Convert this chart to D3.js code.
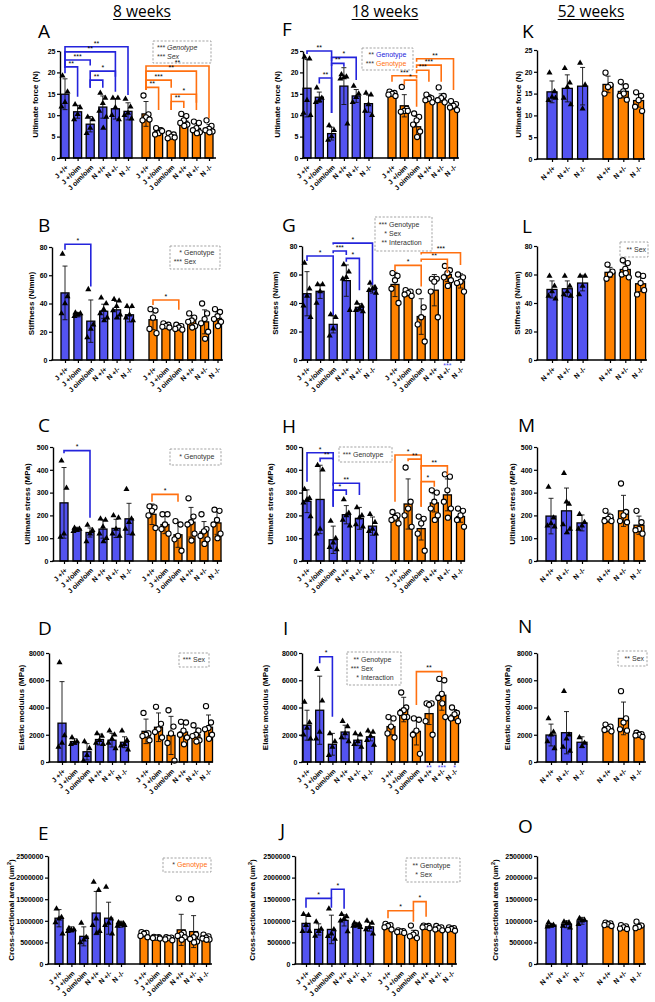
<!DOCTYPE html>
<html>
<head>
<meta charset="utf-8">
<script src="https://cdn.jsdelivr.net/npm/d3@7"></script>
<style>
body { margin: 0; background: #fff; }
text { font-family: "Liberation Sans", Arial, sans-serif; }
</style>
</head>
<body>
<svg id="fig" width="655" height="1002"></svg>
<script>
// group labels
var groups18 = ["J +/+", "J +/oim", "J oim/oim", "N +/+", "N +/-", "N -/-"];
var groups52 = ["N +/+", "N +/-", "N -/-"];

// ---- 8 weeks ----
var a_mean = [14.9, 10.8, 7.9, 11.9, 11.5, 10.9, 10.3, 6.2, 5.1, 8.6, 6.9, 6.8];
var a_sd = [3.6, 1.5, 1.8, 2.6, 2.4, 2.0, 2.9, 0.9, 0.6, 1.1, 1.2, 1.0];
var a_pts = [[19.2,15.5,13.0,12.0],[12.5,11.8,10.2,9.0],[9.6,9.0,7.0,5.8],[15.2,14.0,12.8,11.0,9.6,7.0],[14.0,14.0,11.8,10.0,9.0],[13.8,12.0,10.5,10.0,9.2],
  [14.6,10.2,9.5,8.8,9.0],[7.0,6.5,5.8,5.5,6.3],[5.8,5.5,5.0,4.6,4.8],[10.3,9.8,8.8,8.2,7.8,7.5],[8.5,8.2,7.0,6.5,6.0,5.8],[8.8,7.5,6.8,6.5,6.2,6.0]];
var a_br = [[0,5,26.0,21.0,14.7,"**"],[0,4,24.8,21.0,15.5,"**"],[0,2,22.9,21.0,21.6,"***"],[0,1,21.3,19.8,14.3,"**"],[2,4,20.3,16.4,19.0,"*"],[2,3,18.2,16.4,16.4,"**"],
  [6,11,21.5,15.9,9.3,"**"],[6,10,20.3,15.9,11.2,"**"],[6,8,18.2,15.9,16.4,"***"],[6,7,16.5,15.9,11.2,"**"],[8,10,14.9,11.2,12.9,"*"],[8,9,13.2,11.2,11.7,"**"]];

var b_mean = [47.5, 32, 27.5, 34.5, 35.5, 32, 28.5, 24.5, 23.5, 28, 27, 29.5];
var b_sd = [19, 1.5, 15, 5, 6, 5, 7, 2, 2, 3.5, 8.5, 4.5];
var b_pts = [[75,45,40,33],[33.5,33,32,31],[50,25,22,16],[44,40,36,33,30,28],[43,42,38,35,32,30],[38,38,32,30,28],
  [36,35,30,22,19],[26,25,24,23.5,23],[25,24,23,22,21.5],[33,30,28,27,24,23],[40,33,29,26,20,15],[36,34,31,29,27,24]];
var b_br = [[0,2,82,78,52,"*"],[6,8,42.5,39,35.5,"*"]];

var c_mean = [255, 140, 125, 140, 143, 185, 205, 160, 115, 170, 128, 167];
var c_sd = [155, 8, 20, 40, 40, 68, 45, 40, 55, 65, 45, 50];
var c_pts = [[440,320,120,105],[145,140,135,130],[158,135,120,85],[185,180,150,120,100,85],[200,190,140,120,110],[315,185,170,140,120],
  [240,235,220,200,145],[205,205,160,140,120],[175,160,110,95,45],[275,195,170,160,120,90],[205,140,130,110,95,75],[225,220,180,160,120,100]];
var c_br = [[0,2,484,473,190,"*"],[6,8,292,260,260,"*"]];

var d_mean = [2850, 1500, 750, 1650, 1600, 1450, 2250, 2550, 1950, 2200, 2000, 2550];
var d_sd = [3050, 200, 600, 400, 500, 400, 900, 1050, 1400, 750, 500, 900];
var d_pts = [[7300,1950,1400,1100],[1800,1500,1400,1300],[1500,1000,500,100],[2100,1900,1600,1400,1300],[2300,2000,1700,1400,1000],[2300,1600,1300,1200,900],
  [3600,2100,2000,1900,1600],[4050,2800,2400,2200,1800],[3800,2600,2100,1400,100],[2950,2900,2300,2000,1800,1300],[2700,2300,2000,1900,1600,1500],[4100,2900,2500,2400,2000,1700]];

var e_mean = [1060000, 800000, 640000, 1180000, 1060000, 920000, 680000, 610000, 590000, 790000, 750000, 610000];
var e_sd = [200000, 60000, 220000, 500000, 370000, 70000, 50000, 25000, 30000, 360000, 370000, 40000];
var e_pts = [[1280000,1080000,1050000,960000,700000],[830000,800000,780000,760000],[950000,620000,560000,500000],[1900000,1710000,1050000,900000,760000,720000],[1780000,1050000,950000,900000,700000],[960000,940000,920000,880000,900000],
  [740000,720000,700000,650000,620000],[630000,620000,610000,600000,590000],[620000,610000,600000,570000,550000],[1520000,720000,680000,650000,620000,560000],[1500000,680000,620000,580000,520000,500000],[680000,640000,610000,590000,570000,560000]];

// ---- 18 weeks ----
var f_mean = [16.3, 14.2, 5.7, 16.8, 14.5, 12.7, 15.0, 12.2, 7.3, 14.0, 14.0, 12.2];
var f_sd = [6.7, 1.2, 1.5, 4.3, 1.5, 2.0, 0.5, 2.6, 2.4, 0.8, 1.0, 0.8];
var f_pts = [[23.6,23.2,13.5,10.5,10.0],[16.4,14.0,13.5,13.0],[7.6,6.5,5.0,4.2],[19.5,19.0,18.8,18.5,8.0],[16.8,15.0,14.2,13.0],[15.2,14.8,12.5,11.0,10.0],
  [15.5,15.2,15.0,14.8,14.5],[16.6,11.5,11.0,10.8,11.0],[10.4,9.6,8.8,7.8,6.2,4.9],[14.8,14.0,13.8,13.5,13.0],[16.5,14.5,14.0,13.5,13.0],[13.3,12.6,12.2,11.8,11.2]];
var f_br = [[0,2,25.0,24.3,10.5,"**"],[1,2,18.7,17.4,10.5,"**"],[2,4,23.5,22.6,18.2,"*"],[2,3,22.1,21.5,21.3,"**"],
  [8,11,23.2,22.5,15.9,"**"],[8,10,21.7,21.0,17.8,"***"],[8,9,20.5,19.8,17.8,"***"],[6,8,19.2,17.8,18.6,"***"],[7,8,18.2,17.1,12.0,"*"]];

var g_mean = [46.5, 48.2, 25, 55.7, 37, 49.5, 53, 46.5, 30.5, 49, 60, 55.5];
var g_sd = [15.5, 5, 6, 11, 2.5, 2.5, 8.5, 1.5, 12.5, 11, 5, 5];
var g_pts = [[68,50,45,38,30],[53,53,48,40],[32,30,22,17],[67,62,58,57,35],[40,38,36,35,34],[54,51,50,49,47],
  [61,59,56,50,40],[49,48,47,46,45],[48,37,30,25,13],[57,57,55,48,30],[66,63,61,58,56,52],[60,58,55,54,48]];
var g_br = [[0,2,73,69.5,31.6,"*"],[2,3,76.5,75,73.7,"***"],[2,5,82,81,52.6,"*"],[3,4,71.3,69,49,"*"],
  [6,8,66.4,62.5,51.5,"*"],[8,10,70.7,69,61,"**"],[8,11,75.3,74,66.7,"***"]];

var h_mean = [262, 270, 93, 203, 187, 153, 190, 250, 142, 255, 290, 195];
var h_sd = [50, 150, 60, 40, 48, 40, 15, 110, 50, 40, 70, 25];
var h_pts = [[315,275,270,255,195],[420,400,140,120],[175,100,80,60,50],[270,210,200,180,155],[235,200,190,160,150],[205,170,140,130,120],
  [215,200,190,180,165],[410,260,230,200,150],[195,185,165,120,45],[310,300,260,230,200,180],[380,370,310,260,230,190],[230,220,200,180,150]];
var h_br = [[0,2,475,348,443,"*"],[1,2,450,435,238,"**"],[2,4,341,330,289,"**"],[2,3,311,238,289,"*"],
  [6,8,465,260,445,"*"],[7,8,447,437,238,"**"],[8,10,417,400,377,"**"],[8,9,348,238,326,"*"]];

var i_mean = [2700, 3800, 1300, 2200, 1600, 1850, 2600, 3850, 2250, 3550, 4900, 3450];
var i_sd = [1100, 2500, 800, 500, 400, 300, 600, 900, 1000, 800, 1100, 400];
var i_pts = [[4400,2900,2500,2000,1700],[6800,4500,2200,1700],[2100,1500,1100,500],[3000,2600,2100,1800,1500],[2100,2000,1500,1300,1100],[2300,2200,1900,1600,1250],
  [3300,3200,2600,2100,1800],[5100,4000,3800,3600,3300,3300],[3200,3100,2300,2000,600],[4300,4300,4200,3000,2000],[6100,6000,5000,4700,3300,4300],[4000,3600,3500,3200,3000]];
var i_br = [[1,2,7730,7240,3330,"*"],[8,10,6630,4180,6260,"**"]];

var j_mean = [940000, 800000, 800000, 1010000, 900000, 860000, 870000, 750000, 690000, 860000, 830000, 810000];
var j_sd = [200000, 130000, 330000, 130000, 50000, 100000, 50000, 40000, 90000, 30000, 60000, 40000];
var j_pts = [[1150000,1130000,900000,760000,760000],[980000,810000,760000,650000],[1280000,800000,700000,640000,580000],[1150000,1100000,1050000,1000000,750000],[950000,920000,900000,880000,850000],[1000000,950000,850000,800000,700000],
  [930000,900000,880000,850000,800000],[780000,760000,750000,740000,720000],[890000,720000,680000,640000,600000],[890000,880000,860000,850000,830000],[880000,850000,830000,800000,780000],[850000,830000,810000,790000,770000]];
var j_br = [[0,2,1520000,1303000,1303000,"*"],[2,3,1729000,1520000,1280000,"*"],[6,8,1234000,1057000,980000,"*"],[8,9,1443000,1234000,1096000,"*"]];

// ---- 52 weeks ----
var k_mean = [15.4, 16.2, 16.7, 17.1, 15.5, 13.4];
var k_sd = [2.5, 3.1, 4.3, 1.9, 1.5, 1.5];
var k_pts = [[19.8,15.5,14.2,13.5,14.0],[20.8,17.5,16.5,14.0,12.5],[22.0,17.0,11.5],[19.8,17.0,16.5,15.0],[17.7,16.7,15.5,14.5,13.6,15.0],[15.3,14.5,13.5,12.0,11.0]];
var l_mean = [49.5, 50, 54, 61.5, 63.5, 53.5];
var l_sd = [6, 5.5, 5.5, 3.5, 4, 5.5];
var l_pts = [[59,52,48,45,43],[59,52,48,46,45],[59,59,52,46],[67,62,60,57],[70,68,64,60,58,61],[60,59,54,46,49]];
var m_mean = [197, 220, 167, 190, 220, 157];
var m_sd = [78, 100, 35, 20, 68, 40];
var m_pts = [[325,190,165,155,150],[385,250,260,160,140,125],[205,170,155,140],[220,195,185,175,175],[340,215,200,175,170],[220,170,140,135,120]];
var n_mean = [1980, 2150, 1450, 2480, 3200, 2000];
var n_sd = [800, 1550, 400, 250, 1200, 150];
var n_pts = [[3200,2200,2000,1500,1000],[5200,2000,1700,1100,800],[1800,1400,1150],[2750,2600,2450,2350,2250],[5200,3200,2900,2400,2300],[2150,2050,2000,1950,1850]];
var o_mean = [900000, 920000, 1000000, 920000, 850000, 890000];
var o_sd = [40000, 80000, 80000, 40000, 50000, 60000];
var o_pts = [[960000,900000,880000,860000],[980000,960000,940000,880000,840000],[1060000,1020000,1000000,920000],[960000,940000,920000,900000,880000],[900000,870000,850000,820000,810000],[980000,890000,860000,830000]];

var blueFill = "#5353f0", orangeFill = "#ff8200";
var blueLine = "#2424dc", orangeLine = "#ff7010";

var svg = d3.select("#fig");

// y label text and tick step per measure
var force = {label:["Ultimate force (N)"], max:25, tick:5};
var stiff = {label:["Stiffness (N/mm)"], max:80, tick:20};
var stress = {label:["Ultimate stress (MPa)"], max:500, tick:100};
var modulus = {label:["Elastic modulus (MPa)"], max:8000, tick:2000};
var csa = {label:["Cross-sectional area (um", "2", ")"], max:2500000, tick:500000};

var panels = [
  {id:"A", lx:38, ly:38, m:force, mean:a_mean, sd:a_sd, pts:a_pts, br:a_br, cats:groups18, x0:60, bx:65, ox:146, step:12.6, top:51, bot:158, xEnd:216, labX:35,
    legend:{x:153, y:41, w:58, h:22, italic:true, lines:[["***","Genotype","#333"],["***","Sex","#333"]]}},
  {id:"B", lx:38, ly:232, m:stiff, mean:b_mean, sd:b_sd, pts:b_pts, br:b_br, cats:groups18, x0:52, bx:65, ox:153, step:12.9, top:247, bot:360, xEnd:223, labX:31,
    legend:{x:170, y:246, w:50, h:23, lines:[["*","Genotype","#333"],["***","Sex","#333"]]}},
  {id:"C", lx:38, ly:432, m:stress, mean:c_mean, sd:c_sd, pts:c_pts, br:c_br, cats:groups18, x0:53, bx:64, ox:152, step:13, top:447, bot:561, xEnd:222, labX:27,
    legend:{x:170, y:449, w:51, h:16, lines:[["*","Genotype","#333"]]}},
  {id:"D", lx:38, ly:635, m:modulus, mean:d_mean, sd:d_sd, pts:d_pts, br:[], cats:groups18, x0:49, bx:62, ox:146, step:12.5, top:653, bot:762, xEnd:213, labX:21,
    legend:{x:179, y:653, w:30, h:14, lines:[["***","Sex","#333"]]}},
  {id:"E", lx:38, ly:840, m:csa, mean:e_mean, sd:e_sd, pts:e_pts, br:[], cats:groups18, x0:48, bx:59, ox:144, step:12.4, top:856, bot:964, xEnd:212, labX:11,
    legend:{x:163, y:858, w:48, h:14, lines:[["*","Genotype",orangeLine]]}},
  {id:"F", lx:282, ly:36, m:force, mean:f_mean, sd:f_sd, pts:f_pts, br:f_br, cats:groups18, x0:303, bx:307, ox:392, step:12.3, top:51, bot:158, xEnd:459, labX:277,
    legend:{x:362, y:48, w:51, h:22, lines:[["**","Genotype",blueLine],["***","Genotype",orangeLine]]}},
  {id:"G", lx:282, ly:232, m:stiff, mean:g_mean, sd:g_sd, pts:g_pts, br:g_br, cats:groups18, x0:302, bx:307, ox:395, step:13.1, top:246, bot:360, xEnd:465, labX:275,
    legend:{x:375, y:217, w:57, h:34, lines:[["***","Genotype","#333"],["*","Sex","#333"],["**","Interaction","#333"]]},
    notes:[[10,"***"]]},
  {id:"H", lx:282, ly:433, m:stress, mean:h_mean, sd:h_sd, pts:h_pts, br:h_br, cats:groups18, x0:302, bx:307, ox:395, step:13.1, top:447, bot:561, xEnd:465, labX:270,
    legend:{x:339, y:447, w:53, h:15, lines:[["***","Genotype","#333"]]}},
  {id:"I", lx:283, ly:635, m:modulus, mean:i_mean, sd:i_sd, pts:i_pts, br:i_br, cats:groups18, x0:302, bx:307, ox:391, step:12.7, top:653, bot:762, xEnd:459, labX:265,
    legend:{x:347, y:652, w:54, h:33, lines:[["**","Genotype","#333"],["***","Sex","#333"],["*","Interaction","#333"]]},
    notes:[[9,"**"],[10,"***"],[11,"*"]]},
  {id:"J", lx:280, ly:837, m:csa, mean:j_mean, sd:j_sd, pts:j_pts, br:j_br, cats:groups18, x0:295, bx:306, ox:388, step:12.7, top:856, bot:964, xEnd:457, labX:252,
    legend:{x:406, y:858, w:54, h:24, lines:[["**","Genotype","#333"],["*","Sex","#333"]]}},
  {id:"K", lx:522, ly:38, m:force, mean:k_mean, sd:k_sd, pts:k_pts, br:[], cats:groups52, x0:537, bx:552, ox:608, step:15.3, top:50, bot:159, xEnd:645, labX:518, bw:10},
  {id:"L", lx:522, ly:233, m:stiff, mean:l_mean, sd:l_sd, pts:l_pts, br:[], cats:groups52, x0:537, bx:552, ox:610, step:15.3, top:246, bot:360, xEnd:647, labX:517, bw:10,
    legend:{x:620, y:242, w:28, h:15, lines:[["**","Sex","#333"]]}},
  {id:"M", lx:518, ly:432, m:stress, mean:m_mean, sd:m_sd, pts:m_pts, br:[], cats:groups52, x0:537, bx:551, ox:608, step:15.5, top:447, bot:561, xEnd:646, labX:512, bw:10},
  {id:"N", lx:518, ly:633, m:modulus, mean:n_mean, sd:n_sd, pts:n_pts, br:[], cats:groups52, x0:537, bx:551, ox:608, step:15.5, top:653, bot:762, xEnd:646, labX:507, bw:10,
    legend:{x:618, y:651, w:29, h:15, lines:[["**","Sex","#333"]]}},
  {id:"O", lx:518, ly:833, m:csa, mean:o_mean, sd:o_sd, pts:o_pts, br:[], cats:groups52, x0:537, bx:551, ox:608, step:15.5, top:856, bot:964, xEnd:646, labX:495, bw:10}
];

var jit = [-2.5, 2.5, 0, -3.5, 3.5, 0.5];

function drawPanel(p) {
  var n = p.mean.length, half = n / 2, bw = p.bw || 8;
  var pos = d3.range(n).map(function(i) { return i < half ? p.bx + i * p.step : p.ox + (i - half) * p.step; });
  var x = d3.scaleOrdinal().domain(d3.range(n)).range(pos);
  var y = d3.scaleLinear().domain([0, p.m.max]).range([p.bot, p.top]);
  var g = svg.append("g");

  g.append("text").attr("x", p.lx).attr("y", p.ly)
    .style("font-family", "'Open Sans', sans-serif").style("font-size", "19px").text(p.id);

  // bars
  g.selectAll("rect.bar").data(p.mean).join("rect")
    .attr("x", function(d, i) { return x(i) - bw / 2; })
    .attr("y", function(d) { return y(d); })
    .attr("width", bw)
    .attr("height", function(d) { return y(0) - y(d); })
    .attr("fill", function(d, i) { return i < half ? blueFill : orangeFill; })
    .attr("stroke", "#000").attr("stroke-width", 1.3);

  // error bars (mean +- SD)
  var eb = g.selectAll("g.eb").data(p.mean).join("g");
  eb.append("line")
    .attr("x1", function(d, i) { return x(i); }).attr("x2", function(d, i) { return x(i); })
    .attr("y1", function(d, i) { return y(Math.max(0, d - p.sd[i])); })
    .attr("y2", function(d, i) { return y(d + p.sd[i]); })
    .attr("stroke", "#111").attr("stroke-width", 0.9);
  eb.append("line")
    .attr("x1", function(d, i) { return x(i) - 2.5; }).attr("x2", function(d, i) { return x(i) + 2.5; })
    .attr("y1", function(d, i) { return y(d + p.sd[i]); }).attr("y2", function(d, i) { return y(d + p.sd[i]); })
    .attr("stroke", "#111").attr("stroke-width", 0.9);
  eb.append("line")
    .attr("x1", function(d, i) { return x(i) - 2.5; }).attr("x2", function(d, i) { return x(i) + 2.5; })
    .attr("y1", function(d, i) { return y(Math.max(0, d - p.sd[i])); }).attr("y2", function(d, i) { return y(Math.max(0, d - p.sd[i])); })
    .attr("stroke", "#111").attr("stroke-width", 0.9);

  // points
  var tri = d3.symbol().type(d3.symbolTriangle).size(16);
  p.pts.forEach(function(vals, i) {
    vals.forEach(function(v, k) {
      var cx = x(i) + jit[k % jit.length];
      if (i < half) {
        g.append("path").attr("d", tri).attr("transform", "translate(" + cx + "," + y(v) + ")").attr("fill", "#000");
      } else {
        g.append("circle").attr("cx", cx).attr("cy", y(v)).attr("r", 2.6)
          .attr("fill", "#fff").attr("stroke", "#000").attr("stroke-width", 1.1);
      }
    });
  });

  // axes
  var ya = g.append("g").attr("transform", "translate(" + p.x0 + ",0)")
    .call(d3.axisLeft(y).tickValues(d3.range(0, p.m.max + 1, p.m.tick))
      .tickSize(3).tickSizeOuter(0).tickFormat(d3.format("d")));
  ya.select(".domain").attr("stroke-width", 1.4);
  ya.selectAll(".tick line").attr("stroke-width", 1.2);
  ya.selectAll("text").attr("x", -4.5).style("font-size", "7px").style("font-weight", "bold").style("font-family", "'Liberation Sans', Arial, sans-serif");

  var xa = g.append("g").attr("transform", "translate(0," + p.bot + ")")
    .call(d3.axisBottom(x).tickSize(3).tickFormat(function(i) { return p.cats[i % half]; }));
  xa.select(".domain").remove();
  xa.selectAll(".tick line").attr("stroke-width", 1.2);
  xa.selectAll("text")
    .attr("x", 0).attr("y", 0).attr("dy", "0.35em")
    .attr("transform", "translate(1.5,8) rotate(-45)")
    .attr("text-anchor", "end")
    .style("font-size", "7px").style("font-weight", "bold").style("font-family", "'Liberation Sans', Arial, sans-serif");
  g.append("line").attr("x1", p.x0 - 0.7).attr("x2", p.xEnd).attr("y1", p.bot).attr("y2", p.bot)
    .attr("stroke", "#000").attr("stroke-width", 1.4);

  // y label
  var yl = g.append("text")
    .attr("transform", "translate(" + p.labX + "," + ((p.top + p.bot) / 2) + ") rotate(-90)")
    .attr("text-anchor", "middle").attr("dy", "0.35em")
    .style("font-size", "8px").style("font-weight", "bold");
  yl.append("tspan").text(p.m.label[0]);
  if (p.m.label.length > 1) {
    yl.append("tspan").attr("baseline-shift", "super").style("font-size", "5.5px").text(p.m.label[1]);
    yl.append("tspan").text(p.m.label[2]);
  }

  // significance brackets
  p.br.forEach(function(b) {
    var xl = x(b[0]), xr = x(b[1]);
    var col = b[0] < half ? blueLine : orangeLine;
    g.append("path")
      .attr("d", "M" + xl + "," + y(b[3]) + "V" + y(b[2]) + "H" + xr + "V" + y(b[4]))
      .attr("fill", "none").attr("stroke", col).attr("stroke-width", 1.6);
    g.append("text").attr("x", (xl + xr) / 2).attr("y", y(b[2]) - 1.2)
      .attr("text-anchor", "middle").style("font-size", "7px").text(b[5]);
  });

  // legend box
  if (p.legend) {
    var L = p.legend;
    g.append("rect").attr("x", L.x).attr("y", L.y).attr("width", L.w).attr("height", L.h)
      .attr("fill", "none").attr("stroke", "#999").attr("stroke-width", 0.9).attr("stroke-dasharray", "2.2,1.6");
    var lh = L.lines.length;
    L.lines.forEach(function(ln, k) {
      var ty = L.y + L.h / 2 + (k - (lh - 1) / 2) * 9;
      g.append("text").attr("x", L.x + 12).attr("y", ty).attr("dy", "0.35em").attr("text-anchor", "end")
        .style("font-size", "7px").style("font-style", L.italic ? "italic" : "normal").attr("fill", "#333").text(ln[0]);
      g.append("text").attr("x", L.x + 14).attr("y", ty).attr("dy", "0.35em")
        .style("font-size", "7px").style("font-style", L.italic ? "italic" : "normal").attr("fill", ln[2]).text(ln[1]);
    });
  }

  // star notes under x axis
  (p.notes || []).forEach(function(nt) {
    g.append("text").attr("x", x(nt[0])).attr("y", p.bot + 8)
      .attr("text-anchor", "middle").attr("fill", "#4a4af0").style("font-size", "7px").text(nt[1]);
  });
}

panels.forEach(drawPanel);

// column titles
var titles = [["8 weeks", 142], ["18 weeks", 385], ["52 weeks", 591]];
titles.forEach(function(t) {
  var tx = svg.append("text").attr("x", t[1]).attr("y", 17).attr("text-anchor", "middle")
    .style("font-family", "'Open Sans', sans-serif").style("font-size", "15.5px").text(t[0]);
  var w = tx.node().getComputedTextLength();
  svg.append("line").attr("x1", t[1] - w / 2).attr("x2", t[1] + w / 2).attr("y1", 19.5).attr("y2", 19.5)
    .attr("stroke", "#000").attr("stroke-width", 1.2);
});
</script>
</body>
</html>
